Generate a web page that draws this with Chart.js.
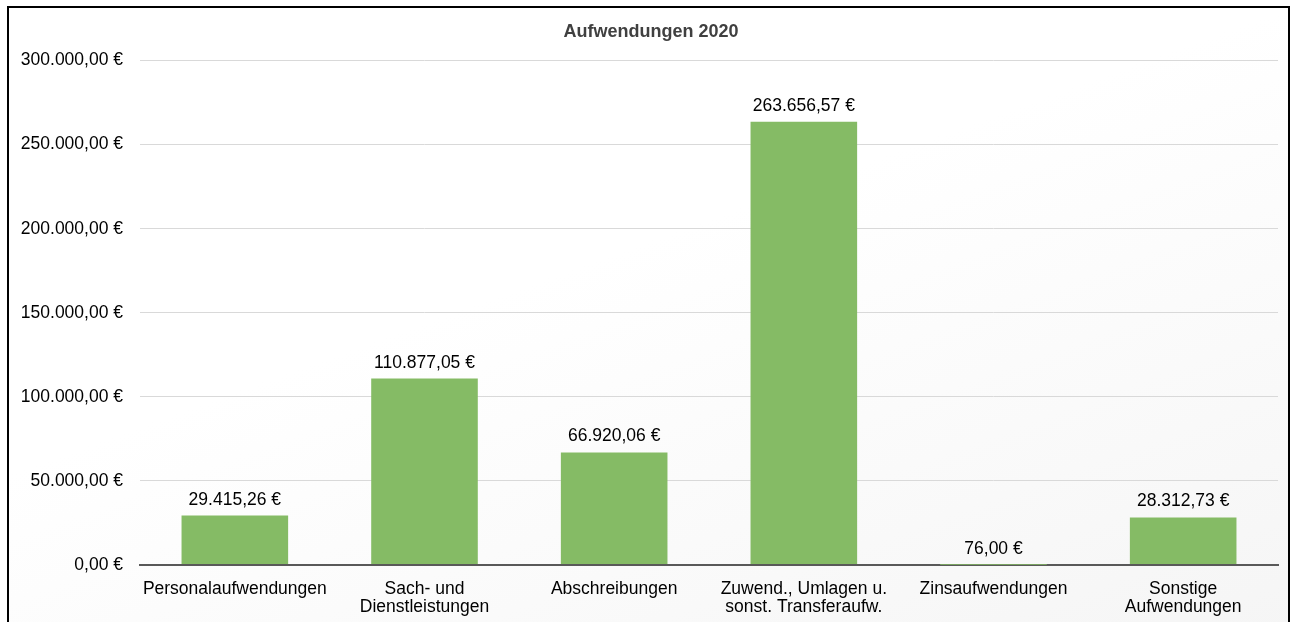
<!DOCTYPE html>
<html>
<head>
<meta charset="utf-8">
<script src="https://cdn.jsdelivr.net/npm/chart.js@4/dist/chart.umd.min.js"></script>
<style>
  html, body { margin: 0; padding: 0; background: #fff; overflow: hidden; }
  #frame {
    position: absolute; left: 7px; top: 6px;
    width: 1279px; height: 700px;
    border: 2px solid #000;
    background: linear-gradient(160deg, #ffffff 40%, #f4f4f4 100%);
  }
  #wrap { position: absolute; left: 0; top: 0; width: 1277px; height: 640px; }
</style>
</head>
<body>
<div id="frame"><div id="wrap"><canvas id="myChart"></canvas></div></div>
<script>
var categories = [
  'Personalaufwendungen',
  ['Sach- und', 'Dienstleistungen'],
  'Abschreibungen',
  ['Zuwend., Umlagen u.', 'sonst. Transferaufw.'],
  'Zinsaufwendungen',
  ['Sonstige', 'Aufwendungen']
];
var amounts = [29415.26, 110877.05, 66920.06, 263656.57, 76.00, 28312.73];
var yTicks = [0, 50000, 100000, 150000, 200000, 250000, 300000];

function euro(v) {
  var neg = v < 0; v = Math.abs(v);
  var parts = v.toFixed(2).split('.');
  var intPart = parts[0].replace(/\B(?=(\d{3})+(?!\d))/g, '.');
  return (neg ? '-' : '') + intPart + ',' + parts[1] + ' €';
}

var FONT = '"Liberation Sans", Arial, sans-serif';

// draws the value above every bar
var valueLabels = {
  id: 'valueLabels',
  afterDatasetsDraw: function(chart) {
    var ctx = chart.ctx;
    var meta = chart.getDatasetMeta(0);
    ctx.save();
    ctx.font = '17.5px ' + FONT;
    ctx.fillStyle = '#000';
    ctx.textAlign = 'center';
    ctx.textBaseline = 'alphabetic';
    meta.data.forEach(function(bar, i) {
      ctx.fillText(euro(amounts[i]), bar.x, bar.y - 11);
    });
    ctx.restore();
  }
};

var mychart = document.getElementById('myChart').getContext('2d');
var aufwChart = new Chart(mychart, {
  type: 'bar',
  data: {
    labels: categories,
    datasets: [{
      label: 'Aufwendungen 2020',
      data: amounts,
      backgroundColor: '#85bb65',
      categoryPercentage: 1,
      barPercentage: 0.562
    }]
  },
  options: {
    responsive: true,
    maintainAspectRatio: false,
    animation: false,
    layout: { padding: { top: 5, left: 0, right: 8, bottom: 0 } },
    plugins: {
      legend: { display: false },
      tooltip: { enabled: false },
      title: {
        display: true,
        text: '   Aufwendungen 2020',
        color: '#404040',
        font: { family: FONT, size: 18, weight: 'bold' },
        padding: { top: 8, bottom: 18 }
      }
    },
    scales: {
      x: {
        grid: { display: false },
        border: { display: true, color: '#595959', width: 2 },
        ticks: {
          color: '#000',
          font: { family: FONT, size: 17.5, lineHeight: 1.05 },
          padding: 7,
          maxRotation: 0,
          autoSkip: false
        },
        afterFit: function(scale) { scale.height = 83; }
      },
      y: {
        min: 0,
        max: 300000,
        border: { display: false },
        grid: {
          drawTicks: false,
          color: function(c) { return c.tick && c.tick.value === 0 ? '#595959' : '#d9d9d9'; },
          lineWidth: function(c) { return c.tick && c.tick.value === 0 ? 2 : 1; }
        },
        afterBuildTicks: function(scale) {
          scale.ticks = yTicks.map(function(v) { return { value: v }; });
        },
        ticks: {
          color: '#000',
          font: { family: FONT, size: 17.5 },
          padding: 17,
          callback: function(v) { return euro(v); }
        },
        afterFit: function(scale) { scale.width = 131; }
      }
    }
  },
  plugins: [valueLabels]
});
</script>
</body>
</html>
